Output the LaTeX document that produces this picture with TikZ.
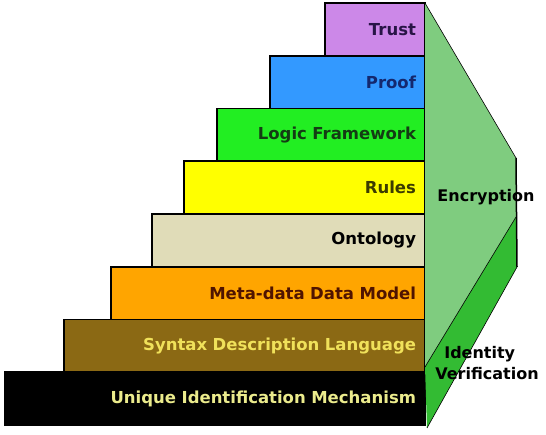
\documentclass[tikz,border=0pt]{standalone}
\usepackage{fontspec}
\setmainfont{DejaVu Sans}
\usepackage{xcolor}
\usepackage{tikz}
\usetikzlibrary{positioning}

\definecolor{trustc}{RGB}{204,136,232}
\definecolor{proofc}{RGB}{51,153,255}
\definecolor{logicc}{RGB}{34,238,34}
\definecolor{rulesc}{RGB}{255,255,0}
\definecolor{ontoc}{RGB}{224,220,184}
\definecolor{metac}{RGB}{255,165,0}
\definecolor{syntaxc}{RGB}{139,105,20}
\definecolor{encc}{RGB}{127,204,127}
\definecolor{identc}{RGB}{51,187,51}
\definecolor{trusttx}{RGB}{40,20,70}
\definecolor{prooftx}{RGB}{20,40,110}
\definecolor{logictx}{RGB}{20,60,20}
\definecolor{rulestx}{RGB}{60,60,0}
\definecolor{metatx}{RGB}{80,20,0}
\definecolor{syntaxtx}{RGB}{240,225,90}
\definecolor{uniquetx}{RGB}{235,235,140}

\begin{document}
\begin{tikzpicture}[x=1pt, y=-1pt,
    stepbox/.style={draw=black, line width=1.8pt, outer sep=0pt, anchor=north east, minimum height=52.75pt,
        inner xsep=9pt, align=right, font=\fontsize{16.5}{19}\selectfont\bfseries},
    side/.style={font=\fontsize{16}{21}\selectfont\bfseries, align=left}
]
    \useasboundingbox[fill=white] (0,0) rectangle (546,435);
    % staircase
    \node[stepbox, fill=trustc, text=trusttx, text width=82pt] (trust) at (425,3) {Trust};
    \node[stepbox, fill=proofc, text=prooftx, text width=137pt] (proof) at (trust.south east) {Proof};
    \node[stepbox, fill=logicc, text=logictx, text width=190pt] (logic) at (proof.south east) {Logic Framework};
    \node[stepbox, fill=rulesc, text=rulestx, text width=223pt] (rules) at (logic.south east) {Rules};
    \node[stepbox, fill=ontoc, text=black, text width=255pt] (onto) at (rules.south east) {Ontology};
    \node[stepbox, fill=metac, text=metatx, text width=296pt] (meta) at (onto.south east) {Meta-data Data Model};
    \node[stepbox, fill=syntaxc, text=syntaxtx, text width=343pt] (syntax) at (meta.south east) {Syntax Description Language};
    \node[stepbox, fill=black, text=uniquetx, text width=402pt] (unique) at (syntax.south east) {Unique Identification Mechanism};
    % side walls
    \coordinate (enctop) at (516,158);
    \coordinate (encbot) at (516,217);
    \coordinate (idbot) at (517,267);
    \fill[encc] (trust.north east) -- (enctop) -- (encbot) -- (425,367) -- cycle;
    \fill[identc] (425,367) -- (encbot) -- (idbot) -- (427,428) -- cycle;
    \draw[semithick] (trust.north east) -- (enctop);
    \draw[line width=1.5pt] (enctop) -- (idbot);
    \draw[semithick] (encbot) -- (425,367);
    \draw[semithick] (idbot) -- (427,428);
    \node[side] (enc) at (486,197) {Encryption};
    \node[side, inner sep=0pt] (ident) at (487,363) {\hspace{9pt}Identity\\Verification};
\end{tikzpicture}
\end{document}
